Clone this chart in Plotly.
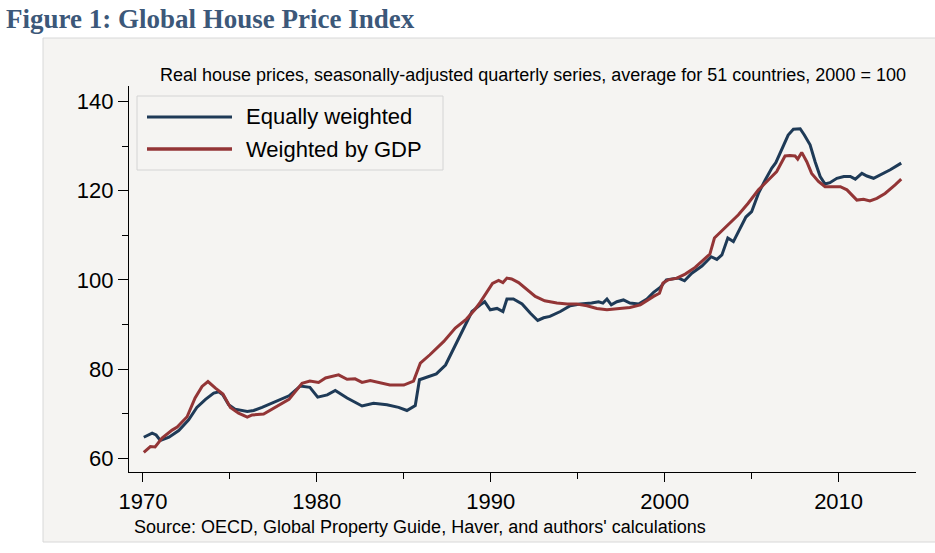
import plotly.graph_objects as go

# ---------------- data ----------------
series_names = ["Equally weighted", "Weighted by GDP"]

eq_years = [1970.05, 1970.53, 1970.76, 1971.0, 1971.5, 1972.06, 1972.63, 1973.1, 1973.6, 1974.07,
            1974.36, 1974.6, 1974.93, 1975.3, 1976.0, 1976.37, 1976.85, 1977.6, 1978.4, 1979.05,
            1979.6, 1980.05, 1980.6, 1981.06, 1981.74, 1982.6, 1983.26, 1984.03, 1984.7, 1985.18,
            1985.66, 1985.9, 1986.33, 1986.87, 1987.4, 1987.96, 1988.44, 1988.92, 1989.4, 1989.65,
            1989.97, 1990.36, 1990.7, 1990.93, 1991.3, 1991.8, 1992.28, 1992.7, 1993.04, 1993.4,
            1994.0, 1994.57, 1995.14, 1995.8, 1996.2, 1996.45, 1996.68, 1996.93, 1997.25, 1997.63,
            1998.0, 1998.5, 1998.98, 1999.36, 1999.74, 2000.1, 2000.8, 2001.14, 2001.56, 2002.14,
            2002.67, 2003.0, 2003.29, 2003.63, 2003.95, 2004.34, 2004.67, 2005.0, 2005.39, 2005.78,
            2006.16, 2006.39, 2006.74, 2007.1, 2007.4, 2007.79, 2008.03, 2008.36, 2008.65, 2008.94,
            2009.22, 2009.5, 2009.9, 2010.3, 2010.67, 2010.96, 2011.34, 2011.63, 2012.01, 2012.4,
            2012.97, 2013.6]
eq_values = [64.7, 65.6, 65.2, 64.0, 64.7, 66.2, 68.6, 71.4, 73.2, 74.6,
             74.9, 74.2, 72.0, 71.0, 70.5, 70.7, 71.4, 72.7, 74.0, 76.2,
             75.9, 73.7, 74.2, 75.2, 73.5, 71.7, 72.3, 72.0, 71.4, 70.7,
             71.8, 77.6, 78.2, 78.9, 80.9, 85.4, 89.2, 92.9, 94.4, 95.1,
             93.3, 93.6, 92.9, 95.7, 95.7, 94.6, 92.5, 90.9, 91.5, 91.8,
             92.9, 94.2, 94.6, 94.8, 95.1, 94.8, 95.7, 94.4, 95.1, 95.5,
             94.8, 94.6, 95.7, 97.2, 98.3, 100.0, 100.4, 99.8, 101.5, 103.1,
             105.2, 104.6, 105.6, 109.4, 108.6, 111.6, 114.1, 115.3, 119.4, 122.4,
             125.1, 126.3, 129.5, 132.5, 133.8, 133.9, 132.5, 130.3, 126.5, 123.2,
             121.5, 121.8, 122.8, 123.2, 123.2, 122.6, 123.9, 123.3, 122.8, 123.6,
             124.7, 126.2]

gdp_years = [1970.05, 1970.43, 1970.7, 1971.1, 1971.68, 1971.97, 1972.54, 1973.0, 1973.4, 1973.74,
             1974.17, 1974.6, 1975.03, 1975.5, 1976.0, 1976.28, 1976.94, 1977.6, 1978.4, 1979.15,
             1979.6, 1980.1, 1980.5, 1981.25, 1981.74, 1982.2, 1982.6, 1983.07, 1984.2, 1985.0,
             1985.56, 1985.95, 1986.5, 1987.3, 1987.96, 1988.6, 1989.08, 1989.4, 1989.75, 1990.1,
             1990.45, 1990.7, 1990.93, 1991.2, 1991.6, 1992.1, 1992.56, 1993.1, 1993.8, 1994.4,
             1994.95, 1995.53, 1996.1, 1996.68, 1997.44, 1998.0, 1998.6, 1998.98, 1999.36, 1999.7,
             1999.9, 2000.2, 2000.7, 2001.18, 2001.75, 2002.23, 2002.6, 2002.86, 2003.47, 2004.24,
             2004.8, 2005.39, 2005.96, 2006.44, 2006.92, 2007.2, 2007.5, 2007.65, 2007.88, 2008.17,
             2008.45, 2008.84, 2009.22, 2009.8, 2010.1, 2010.48, 2010.82, 2011.05, 2011.43, 2011.8,
             2012.2, 2012.67, 2013.25, 2013.6]
gdp_values = [61.3, 62.6, 62.5, 64.5, 66.3, 67.0, 69.3, 73.5, 76.1, 77.2,
              75.7, 74.4, 71.4, 70.1, 69.2, 69.7, 69.9, 71.4, 73.2, 76.8,
              77.3, 77.0, 78.0, 78.7, 77.7, 77.8, 77.0, 77.4, 76.4, 76.4,
              77.3, 81.3, 83.2, 86.2, 89.2, 91.2, 93.3, 95.0, 97.2, 99.2,
              99.9, 99.4, 100.4, 100.2, 99.4, 97.8, 96.3, 95.3, 94.8, 94.6,
              94.6, 94.2, 93.6, 93.3, 93.5, 93.8, 94.4, 95.4, 96.3, 97.0,
              99.3, 100.0, 100.4, 101.3, 102.8, 104.5, 105.8, 109.4, 111.6, 114.6,
              117.2, 120.2, 122.4, 124.3, 127.8, 127.9, 127.8, 127.1, 128.6, 126.5,
              123.9, 122.1, 120.9, 120.8, 120.9, 120.2, 118.8, 117.9, 118.1, 117.7,
              118.3, 119.4, 121.3, 122.6]

x_tick_values = [1970, 1980, 1990, 2000, 2010]
x_minor_ticks = [1975, 1985, 1995, 2005]
y_tick_values = [60, 80, 100, 120, 140]
y_minor_ticks = [70, 90, 110, 130]

title_text = "Figure 1: Global House Price Index"
subtitle_text = ("Real house prices, seasonally-adjusted quarterly series, "
                 "average for 51 countries, 2000 = 100")
source_text = "Source: OECD, Global Property Guide, Haver, and authors' calculations"

# ---------------- styling ----------------
W, H = 935, 553
L, R, T, B = 129, 916, 86, 472          # plot area in pixels
BLUE = "#1e3a57"
RED = "#933536"
PANEL = "#f5f4f2"
SANS = "Liberation Sans, Arial, sans-serif"


def px(x):
    return (x - L) / (R - L)


def py(y):
    return (B - y) / (B - T)


fig = go.Figure()
fig.add_trace(go.Scatter(x=eq_years, y=eq_values, mode="lines", name=series_names[0],
                         line=dict(color=BLUE, width=3), showlegend=False))
fig.add_trace(go.Scatter(x=gdp_years, y=gdp_values, mode="lines", name=series_names[1],
                         line=dict(color=RED, width=3), showlegend=False))

shapes = [
    # grey panel
    dict(type="rect", xref="paper", yref="paper", x0=px(43), x1=px(940), y0=py(542), y1=py(38),
         fillcolor=PANEL, line=dict(color="#d8d8d8", width=1), layer="below"),
    # legend box
    dict(type="rect", xref="paper", yref="paper", x0=px(137), x1=px(443), y0=py(170), y1=py(96),
         fillcolor=PANEL, line=dict(color="#d4d4d4", width=1)),
    dict(type="line", xref="paper", yref="paper", x0=px(147), x1=px(232), y0=py(117), y1=py(117),
         line=dict(color=BLUE, width=3)),
    dict(type="line", xref="paper", yref="paper", x0=px(147), x1=px(232), y0=py(149), y1=py(149),
         line=dict(color=RED, width=3.5)),
]

annotations = [
    dict(text=f"<b>{title_text}</b>", xref="paper", yref="paper", x=px(4), y=py(19),
         xanchor="left", yanchor="middle", showarrow=False,
         font=dict(family="Liberation Serif, serif", size=27, color="#3c5879")),
    dict(text=subtitle_text, xref="paper", yref="paper", x=px(908), y=py(75),
         xanchor="right", yanchor="middle", showarrow=False,
         font=dict(family=SANS, size=18, color="black")),
    dict(text=source_text, xref="paper", yref="paper", x=px(132), y=py(527),
         xanchor="left", yanchor="middle", showarrow=False,
         font=dict(family=SANS, size=18, color="black")),
    dict(text=series_names[0], xref="paper", yref="paper", x=px(244), y=py(117),
         xanchor="left", yanchor="middle", showarrow=False,
         font=dict(family=SANS, size=22, color="black")),
    dict(text=series_names[1], xref="paper", yref="paper", x=px(244), y=py(149),
         xanchor="left", yanchor="middle", showarrow=False,
         font=dict(family=SANS, size=22, color="black")),
]

fig.update_layout(
    width=W, height=H,
    margin=dict(l=L, r=W - R, t=T, b=H - B, pad=0),
    paper_bgcolor="white",
    plot_bgcolor=PANEL,
    shapes=shapes,
    annotations=annotations,
    showlegend=False,
    xaxis=dict(range=[1969.2, 2014.45], tickmode="array", tickvals=x_tick_values,
               ticks="outside", ticklen=9, tickwidth=1.3, tickcolor="black",
               showline=True, linecolor="black", linewidth=1.3,
               showgrid=False, zeroline=False,
               tickfont=dict(family=SANS, size=22, color="black"),
               minor=dict(tickmode="array", tickvals=x_minor_ticks, ticks="outside",
                          ticklen=6, tickwidth=1.2, tickcolor="black", showgrid=False)),
    yaxis=dict(range=[56.9, 143.5], tickmode="array", tickvals=y_tick_values,
               ticks="outside", ticklen=10, tickwidth=1.3, tickcolor="black",
               showline=True, linecolor="black", linewidth=1.3,
               showgrid=False, zeroline=False,
               tickfont=dict(family=SANS, size=22, color="black"),
               minor=dict(tickmode="array", tickvals=y_minor_ticks, ticks="outside",
                          ticklen=6, tickwidth=1.2, tickcolor="black", showgrid=False)),
)

# place the figure at the window's top-left corner (no default page margin)
fig.write_html("out.html", config={"displayModeBar": False},
               post_script="document.body.style.margin='0';")
